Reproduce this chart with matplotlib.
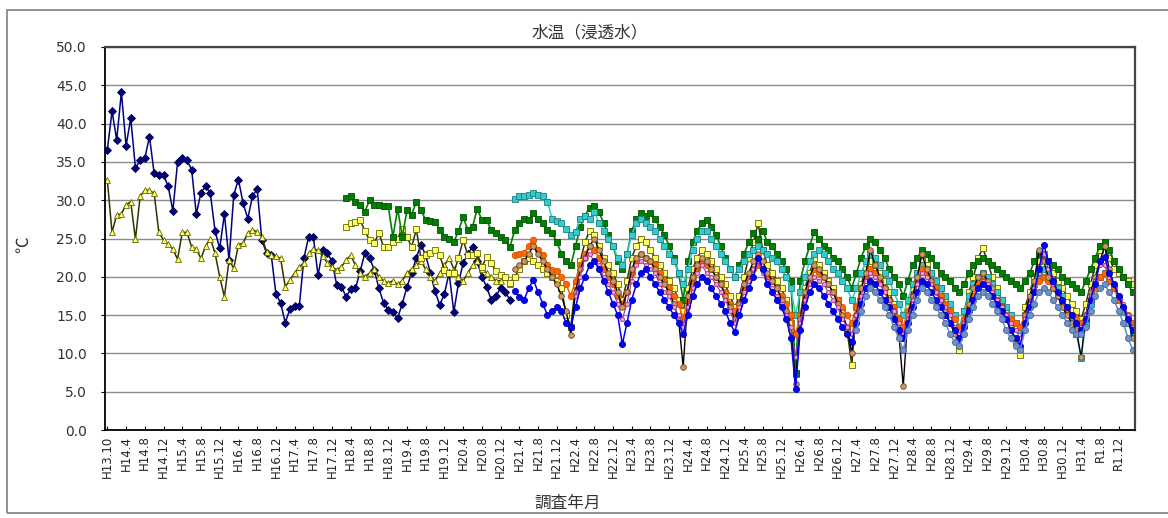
import numpy as np
import matplotlib.pyplot as plt
from matplotlib.patches import Rectangle

plt.rcParams['font.family'] = ['DejaVu Sans', 'Noto Sans CJK JP']

# category axis: one category per survey, a label every 4 categories
N_CAT = 220
tick_labels = [
    "H13.10", "H14.4", "H14.8", "H14.12", "H15.4", "H15.8", "H15.12",
    "H16.4", "H16.8", "H16.12", "H17.4", "H17.8", "H17.12", "H18.4",
    "H18.8", "H18.12", "H19.4", "H19.8", "H19.12", "H20.4", "H20.8",
    "H20.12", "H21.4", "H21.8", "H21.12", "H22.4", "H22.8", "H22.12",
    "H23.4", "H23.8", "H23.12", "H24.4", "H24.8", "H24.12", "H25.4",
    "H25.8", "H25.12", "H26.4", "H26.8", "H26.12", "H27.4", "H27.8",
    "H27.12", "H28.4", "H28.8", "H28.12", "H29.4", "H29.8", "H29.12",
    "H30.4", "H30.8", "H30.12", "H31.4", "R1.8", "R1.12",
]

# --- series values (deg C) ---
navy_start = 0
navy_vals = [
    36.6, 41.6, 37.9, 44.1, 37.1, 40.7, 34.2, 35.2, 35.5, 38.3,
    33.5, 33.3, 33.3, 31.8, 28.6, 35.0, 35.5, 35.2, 34.0, 28.2,
    31.0, 31.8, 30.9, 26.0, 23.7, 28.2, 22.2, 30.7, 32.7, 29.6,
    27.6, 30.5, 31.5, 24.8, 23.1, 22.9, 17.8, 16.6, 14.0, 15.8,
    16.2, 16.2, 22.5, 25.2, 25.2, 20.2, 23.5, 23.1, 22.0, 18.9,
    18.7, 17.4, 18.4, 18.5, 20.7, 23.1, 22.5, 20.9, 18.5, 16.6,
    15.7, 15.4, 14.6, 16.5, 18.7, 20.5, 22.5, 24.2, 22.8, 20.5,
    18.1, 16.3, 17.8, 20.5, 15.4, 19.2, 21.8, 23.0, 23.9, 22.0,
    20.0, 18.7, 17.0, 17.5, 18.5, 18.0, 17.0,
]

ytri_start = 0
ytri_vals = [
    32.6, 25.8, 28.1, 28.2, 29.4, 29.8, 24.9, 30.5, 31.3, 31.3,
    30.9, 25.8, 24.8, 24.3, 23.6, 22.3, 25.8, 25.8, 23.9, 23.6,
    22.4, 24.0, 25.0, 23.1, 20.0, 17.4, 22.2, 21.1, 24.2, 24.4,
    25.7, 26.1, 25.9, 25.2, 23.3, 22.8, 22.7, 22.4, 18.7, 19.6,
    20.5, 21.3, 21.8, 23.1, 23.6, 23.5, 22.7, 21.8, 21.3, 20.9,
    21.3, 22.2, 22.8,
    21.5, 20.5, 20.0, 20.5, 21.0, 20.0, 19.5, 19.2, 19.5, 19.0,
    19.5, 20.5, 21.0, 21.5, 22.0, 21.0, 20.0, 19.5, 20.5, 21.5,
    22.5, 21.0, 20.0, 19.5, 20.5, 21.5, 22.0, 21.0, 20.5, 20.0,
    19.5, 19.5, 20.0, 19.0,
]

ysq_start = 51
ysq_vals = [
    26.5, 27.0, 27.2, 27.4, 26.0, 24.8, 24.4, 25.7, 23.9, 23.9,
    24.5, 25.0, 26.3, 25.2, 23.9, 26.2, 22.4, 22.8, 23.1, 23.5,
    22.8, 20.9, 20.5, 20.5, 22.5, 24.8, 22.8, 22.8, 23.1, 21.3,
    22.6, 21.8, 20.7, 20.3, 20.0, 19.2,
    20.0, 21.0, 22.0, 22.5, 22.0, 21.5, 21.0, 20.5, 20.0, 19.5, 18.5, 15.0, 13.5,
    19.0, 22.0, 24.5, 26.0, 25.5, 24.0, 22.5, 21.5, 20.5, 19.0, 17.0,
    19.5, 22.5, 24.0, 25.0, 24.5, 23.5, 22.5, 21.5, 20.5, 19.5, 18.5, 17.0, 15.5,
    18.5, 21.0, 22.5, 23.5, 23.0, 22.0, 21.0, 20.0, 19.0, 17.5, 16.0,
    17.5, 20.0, 22.5, 24.5, 27.0, 23.5, 21.5, 20.5, 19.5, 18.5, 17.0, 14.0, 7.3,
    15.0, 18.5, 20.5, 22.5, 21.5, 20.5, 19.5, 18.5, 17.0, 15.5, 13.0, 8.5,
    16.0, 19.0, 21.0, 22.0, 21.5, 20.5, 19.5, 18.0, 16.5, 14.5, 12.0,
    16.0, 18.5, 20.5, 22.0, 21.5, 20.5, 19.5, 18.5, 17.0, 15.5, 13.0, 10.4,
    15.5, 18.0, 20.0, 22.5, 23.7, 22.0, 20.0, 18.5, 17.0, 15.5, 13.5, 11.5, 9.8,
    16.0, 18.0, 20.0, 22.0, 23.0, 22.0, 20.5, 19.5, 18.5, 17.5, 16.5, 15.5, 14.5,
    16.5, 19.0, 21.5, 23.5, 24.0, 22.5, 21.0, 20.5, 20.0, 19.5, 19.0,
]

green_start = 51
green_vals = [
    30.3, 30.5, 29.8, 29.4, 28.5, 30.0, 29.4, 29.4, 29.2, 29.2,
    25.2, 28.9, 25.2, 28.7, 28.1, 29.8, 28.7, 27.4, 27.3, 27.2,
    26.1, 25.2, 25.0, 24.5, 26.0, 27.8, 26.1, 26.5, 28.9, 27.4,
    27.4, 26.1, 25.7, 25.2, 24.8, 23.9,
    26.1, 27.0, 27.6, 27.4, 28.3, 27.5, 27.0, 26.1, 25.7, 24.5, 23.0, 22.0, 21.5,
    24.0, 26.5, 28.0, 29.0, 29.2, 28.5, 27.0, 25.5, 24.0, 22.0, 21.0,
    23.0, 26.0, 27.5, 28.3, 28.0, 28.3, 27.5, 26.5, 25.5, 24.0, 22.5, 20.5, 17.0,
    22.0, 24.5, 26.0, 27.0, 27.4, 26.5, 25.5, 24.0, 22.5, 21.0, 20.0,
    21.5, 23.0, 24.5, 25.7, 25.0, 26.0, 24.5, 24.0, 23.0, 22.0, 21.0, 19.5, 7.5,
    19.5, 22.0, 24.0, 25.9, 25.0, 24.0, 23.5, 22.5, 22.0, 21.0, 20.0, 18.5,
    20.5, 22.5, 24.0, 25.0, 24.5, 23.5, 22.5, 21.0, 20.0, 19.0, 17.5,
    19.5, 21.5, 22.5, 23.5, 23.0, 22.5, 21.5, 20.5, 20.0, 19.5, 18.5, 18.0,
    19.0, 20.5, 21.5, 22.0, 22.5, 22.0, 21.5, 21.0, 20.5, 20.0, 19.5, 19.0, 18.5,
    19.5, 20.5, 22.0, 23.0, 22.5, 22.0, 21.5, 21.0, 20.0, 19.5, 19.0, 18.5, 18.0,
    19.5, 21.0, 22.5, 24.0, 24.6, 23.5, 22.0, 21.0, 20.0, 19.0, 18.0,
]

cyan_start = 87
cyan_vals = [
    30.2, 30.5, 30.5, 30.7, 30.9, 30.7, 30.5, 29.8, 27.6, 27.3, 27.0, 26.3, 25.5,
    25.9, 27.6, 28.0, 27.5, 28.5, 27.0, 26.0, 25.0, 24.0, 22.5, 21.5,
    23.0, 25.5, 27.0, 27.5, 27.0, 26.5, 26.0, 25.0, 24.0, 23.0, 22.0, 20.5, 19.0,
    21.0, 23.5, 25.0, 26.0, 26.0, 25.0, 24.0, 23.0, 22.0, 21.0, 20.0,
    21.0, 22.0, 23.0, 23.5, 24.0, 23.5, 23.0, 22.5, 22.0, 21.0, 20.0, 18.5, 15.0,
    18.0, 20.0, 22.0, 23.0, 23.5, 23.0, 22.0, 21.0, 20.5, 19.5, 18.5, 17.0,
    18.5, 20.5, 22.0, 23.0, 22.5, 21.5, 20.5, 19.5, 18.0, 16.5, 15.0,
    17.0, 19.0, 20.5, 21.5, 21.0, 20.5, 19.5, 18.5, 17.5, 16.5, 15.0, 13.5,
    15.5, 17.5, 19.0, 20.0, 20.5, 20.0, 19.0, 18.0, 17.0, 16.0, 15.0, 14.0, 13.0,
    15.0, 17.0, 19.0, 20.5, 21.0, 20.5, 19.5, 18.5, 17.5, 16.0, 14.5, 12.5, 9.4,
    14.0, 16.5, 18.5, 20.0, 20.5, 19.5, 18.5, 17.0, 15.5, 14.0, 12.5,
]

orange_start = 87
orange_vals = [
    22.8, 23.0, 23.1, 24.0, 24.8, 23.5, 22.8, 21.5, 20.9, 20.7, 20.0, 19.0, 17.5,
    19.5, 21.5, 23.0, 24.0, 23.5, 22.5, 21.0, 20.0, 19.0, 17.5, 16.5,
    18.0, 20.5, 22.0, 23.0, 22.5, 22.0, 21.5, 20.5, 19.5, 18.5, 17.5, 16.5, 14.5,
    17.0, 19.5, 21.0, 22.0, 21.5, 21.0, 20.0, 19.0, 18.0, 16.5, 15.5,
    16.5, 18.5, 20.0, 21.0, 21.5, 21.0, 20.0, 19.5, 18.5, 17.5, 16.5, 15.0, 12.5,
    15.0, 17.5, 19.5, 21.0, 20.5, 20.0, 19.0, 18.0, 17.0, 16.0, 15.0, 14.0,
    16.0, 18.5, 20.0, 21.0, 20.5, 19.5, 18.5, 17.0, 16.0, 14.5, 13.5,
    15.5, 17.5, 19.5, 21.0, 20.5, 19.5, 18.5, 17.5, 16.5, 15.5, 14.5, 13.5,
    14.5, 16.0, 17.5, 19.0, 19.5, 19.0, 18.0, 17.0, 16.0, 15.0, 14.5, 14.0, 13.5,
    15.0, 16.5, 18.0, 19.5, 20.0, 19.5, 18.5, 17.5, 16.5, 15.5, 15.0, 14.5, 14.0,
    15.0, 17.0, 18.5, 20.0, 20.5, 19.5, 18.5, 17.0, 16.0, 15.0, 14.0,
]

purple_start = 100
purple_vals = [
    17.5, 20.0, 22.5, 23.0, 22.0, 21.5, 20.0, 19.0, 18.0, 16.5, 14.5,
    16.5, 19.5, 21.5, 22.0, 21.5, 21.0, 20.5, 19.0, 18.0, 17.5, 16.0, 15.0, 13.5,
    16.0, 18.5, 20.5, 21.5, 20.5, 20.0, 19.0, 18.0, 17.0, 15.5, 14.0,
    16.0, 18.0, 19.5, 21.0, 22.0, 20.5, 19.5, 18.5, 17.5, 16.5, 15.0, 13.5, 9.5,
    14.0, 17.0, 19.0, 20.0, 19.5, 19.0, 18.0, 17.0, 16.0, 14.5, 13.5, 12.5,
    15.0, 17.5, 19.5, 20.5, 20.0, 19.0, 18.0, 16.5, 15.5, 14.0, 12.5,
    14.5, 17.0, 19.0, 20.5, 20.0, 19.0, 18.0, 17.0, 16.0, 15.0, 13.5, 12.5,
    14.0, 15.5, 17.0, 18.5, 19.5, 19.0, 18.0, 17.0, 16.0, 15.0, 14.0, 13.0, 12.0,
    14.5, 16.5, 18.5, 20.5, 23.0, 21.0, 19.0, 18.0, 17.0, 16.0, 15.0, 14.0, 13.5,
    15.0, 17.5, 19.5, 21.5, 21.5, 20.0, 19.0, 17.5, 16.5, 15.0, 13.5,
]

blue_start = 87
blue_vals = [
    18.1, 17.4, 17.0, 18.5, 19.6, 18.0, 16.5, 15.0, 15.5, 16.0, 15.5, 14.0, 13.5,
    16.0, 18.5, 20.0, 21.5, 22.0, 21.0, 19.5, 18.0, 16.5, 15.0, 11.2,
    14.0, 17.0, 19.0, 20.5, 21.0, 20.0, 19.0, 18.0, 17.0, 16.0, 15.0, 14.0, 12.5,
    15.0, 17.5, 19.0, 20.0, 19.5, 18.5, 17.5, 16.5, 15.5, 14.0, 12.8,
    15.0, 17.0, 18.5, 20.0, 22.5, 21.0, 19.0, 18.0, 17.0, 16.0, 14.5, 12.0, 5.4,
    13.0, 16.0, 18.0, 19.0, 18.5, 17.5, 16.5, 15.5, 14.5, 13.5, 12.5, 11.5,
    14.0, 16.5, 18.5, 19.5, 19.0, 18.0, 17.0, 16.0, 14.5, 13.0, 12.0,
    14.0, 16.0, 18.0, 19.5, 19.0, 18.0, 17.0, 16.0, 15.0, 14.0, 13.0, 12.0,
    13.5, 15.5, 17.0, 18.5, 19.0, 18.5, 17.5, 16.5, 15.5, 14.5, 13.0, 12.0, 11.0,
    14.0, 16.0, 18.0, 21.0, 24.2, 22.0, 19.5, 18.0, 17.0, 16.0, 15.0, 14.0, 13.0,
    14.5, 17.0, 19.0, 22.0, 22.6, 20.5, 19.0, 17.5, 16.0, 14.5, 13.0,
]

black_start = 87
black_vals = [
    21.0, 21.5, 22.0, 23.0, 24.0, 23.0, 22.0, 21.0, 20.0, 19.0, 17.5, 15.5, 12.4,
    18.0, 21.0, 22.5, 24.0, 25.0, 23.5, 22.0, 20.5, 19.5, 18.0, 16.0,
    18.0, 21.0, 22.5, 23.0, 22.5, 22.0, 21.0, 20.0, 19.0, 18.0, 16.5, 14.5, 8.2,
    17.5, 20.0, 21.5, 22.5, 22.0, 21.0, 20.0, 19.0, 17.5, 16.0, 14.5,
    16.5, 19.0, 20.5, 22.0, 23.0, 22.0, 20.5, 19.5, 18.5, 17.0, 15.5, 13.0, 6.0,
    14.5, 18.0, 20.0, 21.5, 21.0, 20.0, 19.0, 18.0, 16.5, 15.0, 13.5, 10.0,
    15.0, 18.5, 20.5, 23.5, 21.5, 20.0, 18.5, 17.0, 15.5, 13.0, 5.7,
    15.0, 17.5, 20.0, 23.0, 21.0, 19.5, 18.0, 17.0, 15.5, 14.0, 12.5, 11.0,
    14.0, 16.5, 18.5, 20.0, 20.5, 19.5, 18.5, 17.0, 16.0, 14.5, 13.0, 11.5, 10.5,
    15.0, 17.5, 19.5, 23.5, 22.0, 20.0, 18.5, 17.5, 16.0, 15.0, 14.0, 13.0, 9.5,
    15.0, 18.0, 20.0, 22.0, 24.0, 21.0, 19.0, 17.5, 16.0, 14.5, 12.0,
]

steel_start = 160
steel_vals = [
    13.0, 15.5, 17.5, 18.5, 18.0, 17.0, 16.0, 15.0, 13.5, 12.0, 10.5,
    13.0, 15.0, 17.0, 18.5, 18.0, 17.0, 16.0, 15.0, 14.0, 12.5, 11.5, 11.0,
    12.5, 14.5, 16.0, 17.5, 18.0, 17.5, 16.5, 15.5, 14.5, 13.0, 12.0, 11.0, 10.5,
    13.0, 15.0, 16.5, 18.0, 18.5, 18.0, 17.0, 16.0, 15.0, 14.0, 13.0, 12.5, 12.5,
    13.5, 15.5, 17.5, 18.5, 19.0, 18.0, 17.0, 15.5, 14.0, 12.0, 10.5,
]

for start, vals in [(ysq_start, ysq_vals), (green_start, green_vals),
                    (cyan_start, cyan_vals), (orange_start, orange_vals),
                    (purple_start, purple_vals), (blue_start, blue_vals),
                    (black_start, black_vals), (steel_start, steel_vals)]:
    assert start + len(vals) == N_CAT, (start, len(vals))

# (values, start, line colour, line width, marker, face, edge, size)
series = [
    (navy_vals, navy_start, "#000080", 1.1, "D", "#000080", "#000040", 3.6),
    (ytri_vals, ytri_start, "#333300", 1.1, "^", "#FFFF66", "#666600", 4.6),
    (ysq_vals, ysq_start, "#333300", 1.1, "s", "#FFFF66", "#666600", 4.4),
    (green_vals, green_start, "#008000", 1.2, "s", "#008000", "#005000", 4.8),
    (cyan_vals, cyan_start, "#33CCCC", 1.1, "s", "#33CCCC", "#1E7F7F", 4.4),
    (orange_vals, orange_start, "#FF6600", 1.2, "o", "#FF6600", "#CC5200", 4.6),
    (black_vals, black_start, "#000000", 1.0, "o", "#CC9966", "#664422", 4.0),
    (purple_vals, purple_start, "#993399", 0.8, "o", "#FF99CC", "#993399", 3.0),
    (blue_vals, blue_start, "#0000FF", 1.1, "o", "#0000FF", "#0000AA", 4.4),
    (steel_vals, steel_start, "#6688CC", 1.1, "o", "#6C92C8", "#44669A", 4.4),
]

fig = plt.figure(figsize=(11.68, 5.18), dpi=100)
ax = fig.add_axes([105 / 1168, 1 - 430 / 518, 1030 / 1168, 383 / 518])

for vals, start, lc, lw, mk, fc, ec, ms in series:
    x = np.arange(start, start + len(vals))
    ax.plot(x, vals, color=lc, linewidth=lw, marker=mk, markersize=ms,
            markerfacecolor=fc, markeredgecolor=ec, markeredgewidth=0.6)

ax.set_xlim(-0.5, N_CAT - 0.5)
ax.set_ylim(0, 50)
yt = np.arange(0, 50.1, 5)
ax.set_yticks(yt)
ax.set_yticklabels([f"{v:.1f}" for v in yt], fontsize=10, color="#333333")
ax.yaxis.grid(True, color="#8c8c8c", linewidth=1)
ax.set_axisbelow(True)
ax.tick_params(axis="y", direction="out", length=3, pad=10)

ax.set_xticks(np.arange(0, 4 * len(tick_labels), 4))
ax.set_xticklabels(tick_labels, rotation=90, fontsize=8.5, color="#222222")
ax.tick_params(axis="x", direction="in", length=3, pad=4)

for s in ["left", "bottom"]:
    ax.spines[s].set_color("#000000")
    ax.spines[s].set_linewidth(1.3)
for s in ["top", "right"]:
    ax.spines[s].set_color("#444444")
    ax.spines[s].set_linewidth(1.6)

jp = ["Noto Sans CJK JP", "DejaVu Sans"]
fig.text(590 / 1168, 1 - 33 / 518, "水温（浸透水）", ha="center", va="center",
         fontsize=12, color="#333333", family=jp)
fig.text(568 / 1168, 1 - 503 / 518, "調査年月", ha="center", va="center",
         fontsize=12, color="#333333", family=jp)
fig.text(23 / 1168, 1 - 245 / 518, "℃", ha="center", va="center",
         rotation=90, fontsize=12, color="#333333", family=jp)

# outer chart frame
fig.patches.append(Rectangle((7 / 1168, 5 / 518), 1.1, 503 / 518,
                             transform=fig.transFigure, fill=False,
                             edgecolor="#808080", linewidth=1.2))

fig.savefig("out.png", dpi=100)
